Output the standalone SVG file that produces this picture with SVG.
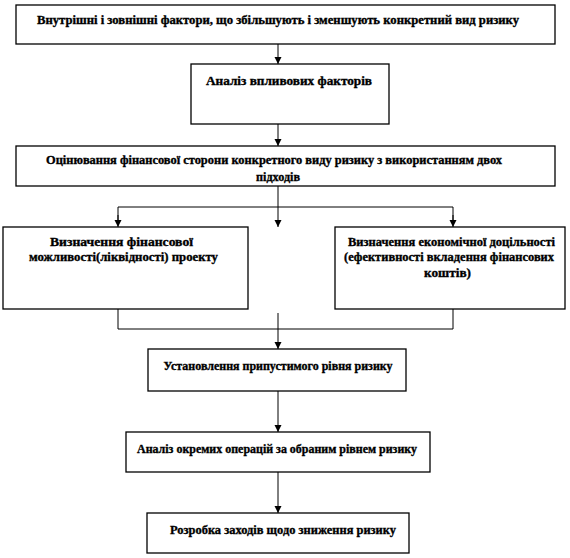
<svg xmlns="http://www.w3.org/2000/svg" width="570" height="558" viewBox="0 0 570 558">
<style>
.box{fill:#fff;stroke:#000;stroke-width:1.3}
.ln{fill:none;stroke:#000;stroke-width:1}
.t{font-family:"Liberation Serif","DejaVu Serif",serif;font-weight:bold;font-size:12.5px;fill:#000;stroke:#000;stroke-width:0.35;text-anchor:middle}
</style>
<defs>
<marker id="ah" markerWidth="8" markerHeight="8" refX="7" refY="3.5" orient="auto" markerUnits="userSpaceOnUse">
<path d="M0,0 L7,3.5 L0,7 Z" fill="#000"/>
</marker>
</defs>
<rect width="570" height="558" fill="#fff"/>
<g id="connectors">
<line class="ln" x1="278" y1="44" x2="278" y2="64" marker-end="url(#ah)"/>
<line class="ln" x1="278" y1="124" x2="278" y2="146" marker-end="url(#ah)"/>
<line class="ln" x1="278" y1="186" x2="278" y2="227" marker-end="url(#ah)"/>
<polyline class="ln" points="118,220 118,207 453,207 453,220"/>
<line class="ln" x1="118" y1="215" x2="118" y2="227" marker-end="url(#ah)"/>
<line class="ln" x1="453" y1="215" x2="453" y2="227" marker-end="url(#ah)"/>
<polyline class="ln" points="118,309 118,329 453,329 453,309"/>
<line class="ln" x1="278" y1="313" x2="278" y2="349" marker-end="url(#ah)"/>
<line class="ln" x1="278" y1="391" x2="278" y2="432" marker-end="url(#ah)"/>
<line class="ln" x1="278" y1="472" x2="278" y2="513" marker-end="url(#ah)"/>
</g>
<g id="n1">
<rect class="box" x="16" y="5" width="539" height="39"/>
<text class="t" x="278" y="24" textLength="482" lengthAdjust="spacingAndGlyphs">Внутрішні і зовнішні  фактори, що збільшують  і зменшують конкретний вид ризику</text>
</g>
<g id="n2">
<rect class="box" x="191" y="64" width="198" height="60"/>
<text class="t" x="289" y="85" textLength="166" lengthAdjust="spacingAndGlyphs">Аналіз  впливових  факторів</text>
</g>
<g id="n3">
<rect class="box" x="16" y="146" width="539" height="40"/>
<text class="t" x="274" y="164" textLength="456" lengthAdjust="spacingAndGlyphs">Оцінювання  фінансової сторони конкретного  виду ризику з використанням двох</text>
<text class="t" x="278" y="181" textLength="44" lengthAdjust="spacingAndGlyphs">підходів</text>
</g>
<g id="n4">
<rect class="box" x="3" y="227" width="245" height="82"/>
<text class="t" x="121.5" y="246" textLength="143" lengthAdjust="spacingAndGlyphs">Визначення фінансової</text>
<text class="t" x="123.5" y="261" textLength="189" lengthAdjust="spacingAndGlyphs">можливості(ліквідності)   проекту</text>
</g>
<g id="n5">
<rect class="box" x="335" y="227" width="230" height="82"/>
<text class="t" x="451.5" y="246" textLength="207" lengthAdjust="spacingAndGlyphs">Визначення економічної доцільності</text>
<text class="t" x="449" y="261" textLength="210" lengthAdjust="spacingAndGlyphs">(ефективності  вкладення  фінансових</text>
<text class="t" x="447.5" y="277" textLength="47" lengthAdjust="spacingAndGlyphs">коштів)</text>
</g>
<g id="n6">
<rect class="box" x="148" y="349" width="258" height="42"/>
<text class="t" x="278" y="370" textLength="229" lengthAdjust="spacingAndGlyphs">Установлення  припустимого рівня ризику</text>
</g>
<g id="n7">
<rect class="box" x="126" y="432" width="304" height="40"/>
<text class="t" x="277" y="453" textLength="280" lengthAdjust="spacingAndGlyphs">Аналіз  окремих операцій за обраним рівнем ризику</text>
</g>
<g id="n8">
<rect class="box" x="147" y="513" width="262" height="40"/>
<text class="t" x="283" y="534" textLength="226" lengthAdjust="spacingAndGlyphs">Розробка заходів  щодо зниження ризику</text>
</g>
</svg>
